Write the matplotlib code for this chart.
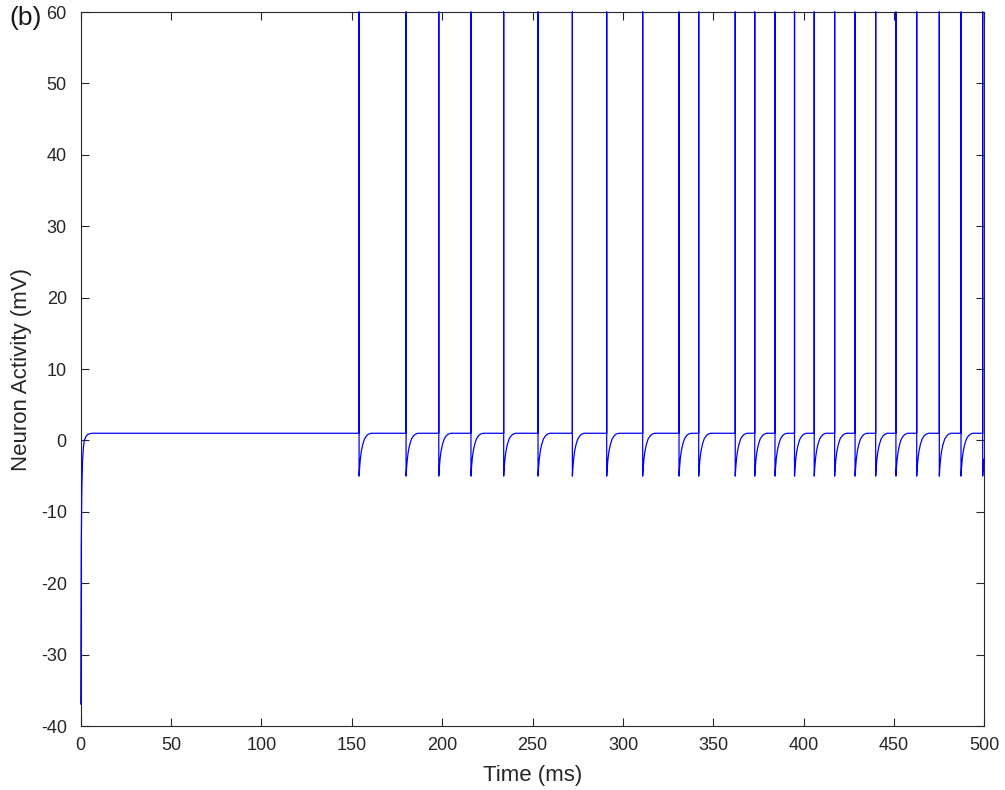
import numpy as np
import matplotlib.pyplot as plt

# values
spike_times = [154.0, 180.0, 198.1, 215.9, 234.0, 253.0, 272.0, 291.0, 310.9,
               331.0, 341.9, 362.1, 372.9, 384.1, 394.9, 405.8, 417.1, 428.4,
               439.8, 451.0, 462.5, 475.0, 487.0, 499.0]
baseline = 1.0
spike_peak = 60.0      # reaches the top of the axes
reset_value = -5.0

# start of the trace (ms, mV)
onset_t = [0.0, 0.3, 0.6, 1.0, 1.5, 2.0, 3.0, 4.0, 6.0]
onset_v = [-37.0, -15.0, -7.0, -3.0, -1.0, 0.0, 0.6, 0.85, 1.0]

# recovery after each spike (ms after spike, mV)
recov_dt = [0.0, 0.3, 0.7, 1.2, 2.0, 3.0, 4.0, 5.0, 6.5]
recov_v = [-5.0, -3.8, -2.6, -1.6, -0.6, 0.2, 0.6, 0.85, 1.0]

xticks = [0, 50, 100, 150, 200, 250, 300, 350, 400, 450, 500]
yticks = [-40, -30, -20, -10, 0, 10, 20, 30, 40, 50, 60]


def build_trace():
    t = list(onset_t)
    v = list(onset_v)
    for s in spike_times:
        t += [s, s, s]
        v += [baseline, spike_peak, reset_value]
        for dt, val in zip(recov_dt[1:], recov_v[1:]):
            if s + dt <= 500:
                t.append(s + dt)
                v.append(val)
    t.append(500.0)
    v.append(baseline if t[-1] - spike_times[-1] > recov_dt[-1] else v[-1])
    return np.array(t), np.array(v)


plt.rcParams['font.family'] = ['Liberation Sans', 'DejaVu Sans']
plt.rcParams['axes.unicode_minus'] = False

fig = plt.figure(figsize=(10.05, 7.9), dpi=100)
ax = fig.add_axes([0.0803, 0.081, 0.8993, 0.9038])

t, v = build_trace()
# no clipping so the trace stays visible on top of the left spine
ax.plot(t, v, color='#0000ff', linewidth=0.9, zorder=3, clip_on=False,
        solid_capstyle='butt')

ax.set_xlim(0, 500)
ax.set_ylim(-40, 60)
ax.set_xticks(xticks)
ax.set_yticks(yticks)
ax.tick_params(direction='in', length=6, width=0.8, top=True, right=True,
               labelsize=13, colors='#262626')
ax.tick_params(axis='x', pad=8)
ax.tick_params(axis='y', pad=10)
for sp in ax.spines.values():
    sp.set_linewidth(0.8)
    sp.set_color('#262626')

ax.set_xlabel('Time (ms)', fontsize=16, color='#262626', labelpad=8)
ax.set_ylabel('Neuron Activity (mV)', fontsize=16, color='#262626', labelpad=6)
fig.text(0.009, 0.968, '(b)', fontsize=19, color='#1a1a1a')

fig.savefig('out.png', dpi=100)
